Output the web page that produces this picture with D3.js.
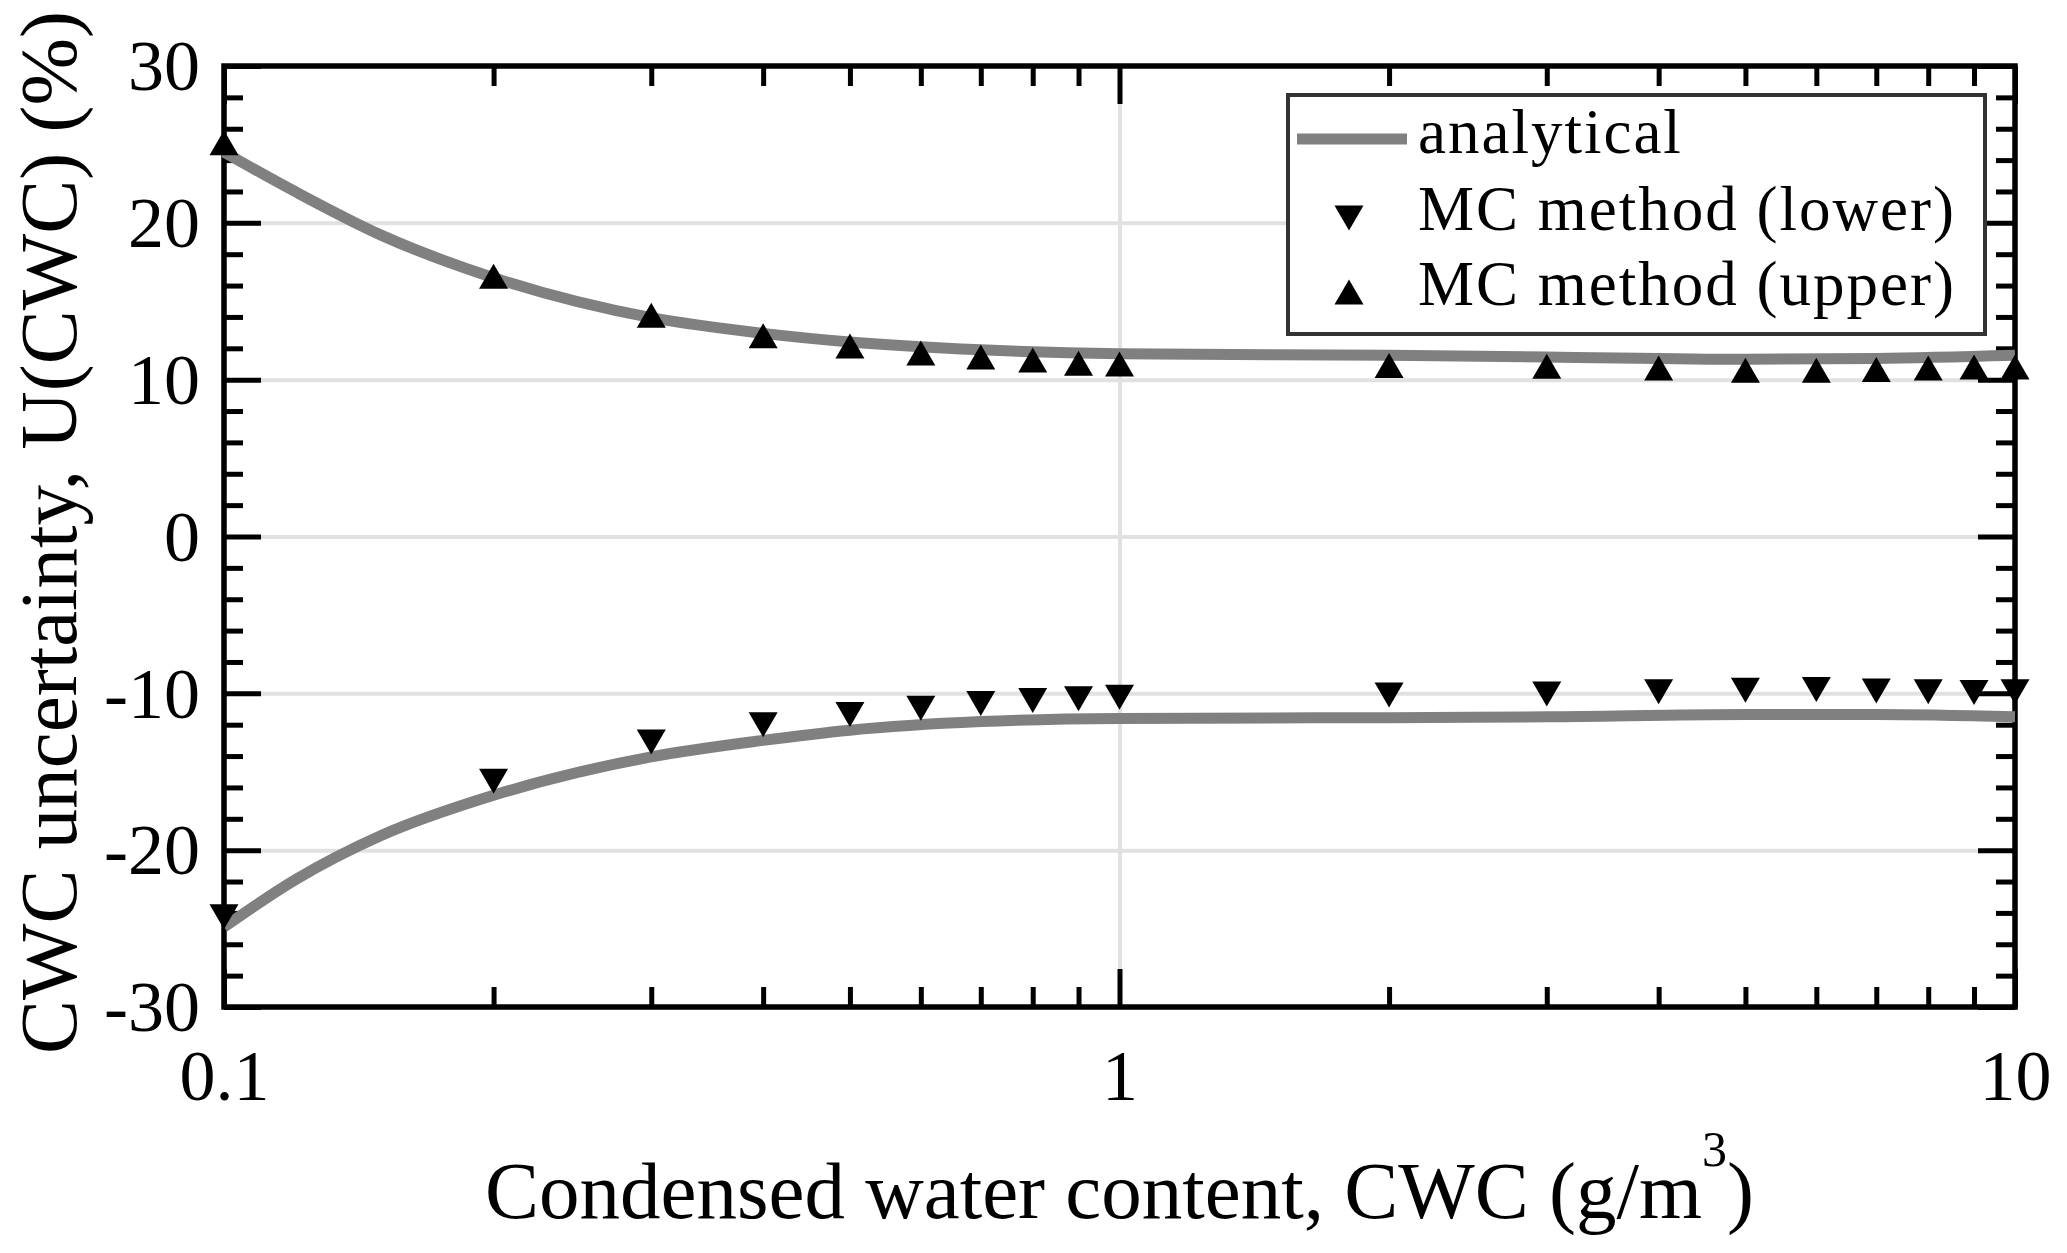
<!DOCTYPE html>
<html>
<head>
<meta charset="utf-8">
<script src="https://cdn.jsdelivr.net/npm/d3@7"></script>
<style>
  body { margin: 0; background: #fff; }
  svg { display: block; }
</style>
</head>
<body>
<script>
// values
const cwcMC = [0.1, 0.2, 0.3, 0.4, 0.5, 0.6, 0.7, 0.8, 0.9, 1, 2, 3, 4, 5, 6, 7, 8, 9, 10];
const mcUpper = [25.1, 16.6, 14.1, 12.8, 12.15, 11.7, 11.45, 11.25, 11.05, 11.0, 10.9, 10.85, 10.75, 10.6, 10.6, 10.65, 10.75, 10.8, 10.8];
const mcLower = [-24.25, -15.6, -13.1, -12.0, -11.35, -10.95, -10.65, -10.45, -10.35, -10.25, -10.1, -10.05, -9.9, -9.8, -9.75, -9.85, -9.9, -9.95, -9.9];

const cwcAna = [0.1, 0.12, 0.15, 0.2, 0.3, 0.4, 0.5, 0.7, 1, 2, 3, 5, 7, 10];
const anaUpper = [24.5, 22.0, 19.2, 16.5, 13.95, 12.95, 12.4, 11.9, 11.65, 11.55, 11.45, 11.3, 11.35, 11.55];
const anaLower = [-24.9, -21.9, -19.05, -16.5, -14.05, -13.0, -12.35, -11.8, -11.6, -11.55, -11.5, -11.35, -11.35, -11.5];

const xMajor = [0.1, 1, 10];
const xMinor = [0.2, 0.3, 0.4, 0.5, 0.6, 0.7, 0.8, 0.9, 2, 3, 4, 5, 6, 7, 8, 9];
const yMajor = [-30, -20, -10, 0, 10, 20, 30];
const yMinor = d3.range(-28, 30, 2).filter(v => v % 10 !== 0);
const xGrid = [1];
const yGrid = [-20, -10, 0, 10, 20];

const legendLabels = ["analytical", "MC method (lower)", "MC method (upper)"];

let svg, x, y;
const W = 2067, H = 1253;
const pLeft = 224, pRight = 2015, pTop = 66, pBottom = 1007;
const font = "'Liberation Serif', 'Times New Roman', serif";
const gridColor = "#e1e1e1";
const lineColor = "#808080";

const init = () => {
  svg = d3.select("body").append("svg")
    .attr("width", W)
    .attr("height", H)
    .style("background", "#fff");

  x = d3.scaleLog().domain([0.1, 10]).range([pLeft, pRight]);
  y = d3.scaleLinear().domain([-30, 30]).range([pBottom, pTop]);

  drawGrid();
  drawAxes();
  drawCurves();
  drawMarkers();
  drawLabels();
  drawLegend();
}

// triangle path, centered on its box
const triangle = (up, w = 29, h = 25) => up
  ? `M0,${-h / 2}L${w / 2},${h / 2}L${-w / 2},${h / 2}Z`
  : `M0,${h / 2}L${w / 2},${-h / 2}L${-w / 2},${-h / 2}Z`;

const drawGrid = () => {
  const g = svg.append("g").attr("class", "grid");

  g.append("g")
    .attr("transform", `translate(0,${pBottom})`)
    .call(d3.axisBottom(x).tickValues(xGrid).tickSize(-(pBottom - pTop)).tickFormat(""))
    .call(s => s.select(".domain").remove())
    .call(s => s.selectAll("line").attr("stroke", gridColor).attr("stroke-width", 4));

  g.append("g")
    .attr("transform", `translate(${pLeft},0)`)
    .call(d3.axisLeft(y).tickValues(yGrid).tickSize(-(pRight - pLeft)).tickFormat(""))
    .call(s => s.select(".domain").remove())
    .call(s => s.selectAll("line").attr("stroke", gridColor).attr("stroke-width", 4));
}

const styleAxis = (s) => {
  s.select(".domain").remove();
  s.selectAll("line").attr("stroke", "#000").attr("stroke-width", 5);
  s.selectAll("text")
    .attr("fill", "#000")
    .style("font-family", font)
    .style("font-size", "72px");
}

const drawAxes = () => {
  const a = svg.append("g").attr("class", "axes");

  // bottom
  a.append("g").attr("transform", `translate(0,${pBottom})`)
    .call(d3.axisBottom(x).tickValues(xMinor).tickSizeInner(-20).tickSizeOuter(0).tickFormat(""))
    .call(styleAxis);
  a.append("g").attr("transform", `translate(0,${pBottom})`)
    .call(d3.axisBottom(x).tickValues(xMajor).tickSizeInner(-38).tickSizeOuter(0).tickFormat(d3.format("")))
    .call(styleAxis)
    .call(s => s.selectAll("text").attr("y", 93).attr("dy", 0));

  // top
  a.append("g").attr("transform", `translate(0,${pTop})`)
    .call(d3.axisTop(x).tickValues(xMinor).tickSizeInner(-20).tickSizeOuter(0).tickFormat(""))
    .call(styleAxis);
  a.append("g").attr("transform", `translate(0,${pTop})`)
    .call(d3.axisTop(x).tickValues(xMajor).tickSizeInner(-38).tickSizeOuter(0).tickFormat(""))
    .call(styleAxis);

  // left
  a.append("g").attr("transform", `translate(${pLeft},0)`)
    .call(d3.axisLeft(y).tickValues(yMinor).tickSizeInner(-19).tickSizeOuter(0).tickFormat(""))
    .call(styleAxis);
  a.append("g").attr("transform", `translate(${pLeft},0)`)
    .call(d3.axisLeft(y).tickValues(yMajor).tickSizeInner(-37).tickSizeOuter(0).tickPadding(24).tickFormat(d3.format("")))
    .call(styleAxis)
    .call(s => s.selectAll("text").attr("dy", "0.33em").text(d => d < 0 ? "-" + Math.abs(d) : d));

  // right
  a.append("g").attr("transform", `translate(${pRight},0)`)
    .call(d3.axisRight(y).tickValues(yMinor).tickSizeInner(-19).tickSizeOuter(0).tickFormat(""))
    .call(styleAxis);
  a.append("g").attr("transform", `translate(${pRight},0)`)
    .call(d3.axisRight(y).tickValues(yMajor).tickSizeInner(-37).tickSizeOuter(0).tickFormat(""))
    .call(styleAxis);

  // box
  a.append("rect")
    .attr("x", pLeft)
    .attr("y", pTop)
    .attr("width", pRight - pLeft)
    .attr("height", pBottom - pTop)
    .attr("fill", "none")
    .attr("stroke", "#000")
    .attr("stroke-width", 5.5);
}

const drawCurves = () => {
  const line = d3.line()
    .x(d => x(d[0]))
    .y(d => y(d[1]))
    .curve(d3.curveMonotoneX);

  [anaUpper, anaLower].forEach(series => {
    svg.append("path")
      .datum(cwcAna.map((c, i) => [c, series[i]]))
      .attr("d", line)
      .attr("fill", "none")
      .attr("stroke", lineColor)
      .attr("stroke-width", 11);
  });
}

const drawMarkers = () => {
  svg.append("g").selectAll("path")
    .data(cwcMC.map((c, i) => [c, mcLower[i]]))
    .join("path")
    .attr("d", triangle(false))
    .attr("transform", d => `translate(${x(d[0])},${y(d[1])})`)
    .attr("fill", "#000");

  svg.append("g").selectAll("path")
    .data(cwcMC.map((c, i) => [c, mcUpper[i]]))
    .join("path")
    .attr("d", triangle(true))
    .attr("transform", d => `translate(${x(d[0])},${y(d[1])})`)
    .attr("fill", "#000");
}

const drawLabels = () => {
  const xl = svg.append("text")
    .attr("x", (pLeft + pRight) / 2)
    .attr("y", 1218)
    .attr("text-anchor", "middle")
    .style("font-family", font)
    .style("font-size", "81px")
    .attr("fill", "#000");
  xl.append("tspan").text("Condensed water content, CWC (g/m");
  xl.append("tspan").attr("dy", -52).style("font-size", "50px").text("3");
  xl.append("tspan").attr("dy", 52).text(")");

  svg.append("text")
    .attr("transform", `translate(76,${(pTop + pBottom) / 2 - 4}) rotate(-90)`)
    .attr("text-anchor", "middle")
    .style("font-family", font)
    .style("font-size", "81px")
    .attr("fill", "#000")
    .text("CWC uncertainty, U(CWC) (%)");
}

const drawLegend = () => {
  const lg = svg.append("g").attr("class", "legend");

  lg.append("rect")
    .attr("x", 1288)
    .attr("y", 95)
    .attr("width", 697)
    .attr("height", 239)
    .attr("fill", "#fff")
    .attr("stroke", "#333")
    .attr("stroke-width", 4);

  lg.append("line")
    .attr("x1", 1297)
    .attr("x2", 1407)
    .attr("y1", 139)
    .attr("y2", 139)
    .attr("stroke", lineColor)
    .attr("stroke-width", 11);

  lg.append("path")
    .attr("d", triangle(false))
    .attr("transform", "translate(1349,218)")
    .attr("fill", "#000");

  lg.append("path")
    .attr("d", triangle(true))
    .attr("transform", "translate(1349,292)")
    .attr("fill", "#000");

  lg.selectAll("text")
    .data(legendLabels)
    .join("text")
    .attr("x", 1418)
    .attr("y", (d, i) => [153, 230, 305][i])
    .style("font-family", font)
    .style("font-size", "63px")
    .style("letter-spacing", "2px")
    .attr("fill", "#000")
    .text(d => d);
}

init();
</script>
</body>
</html>
